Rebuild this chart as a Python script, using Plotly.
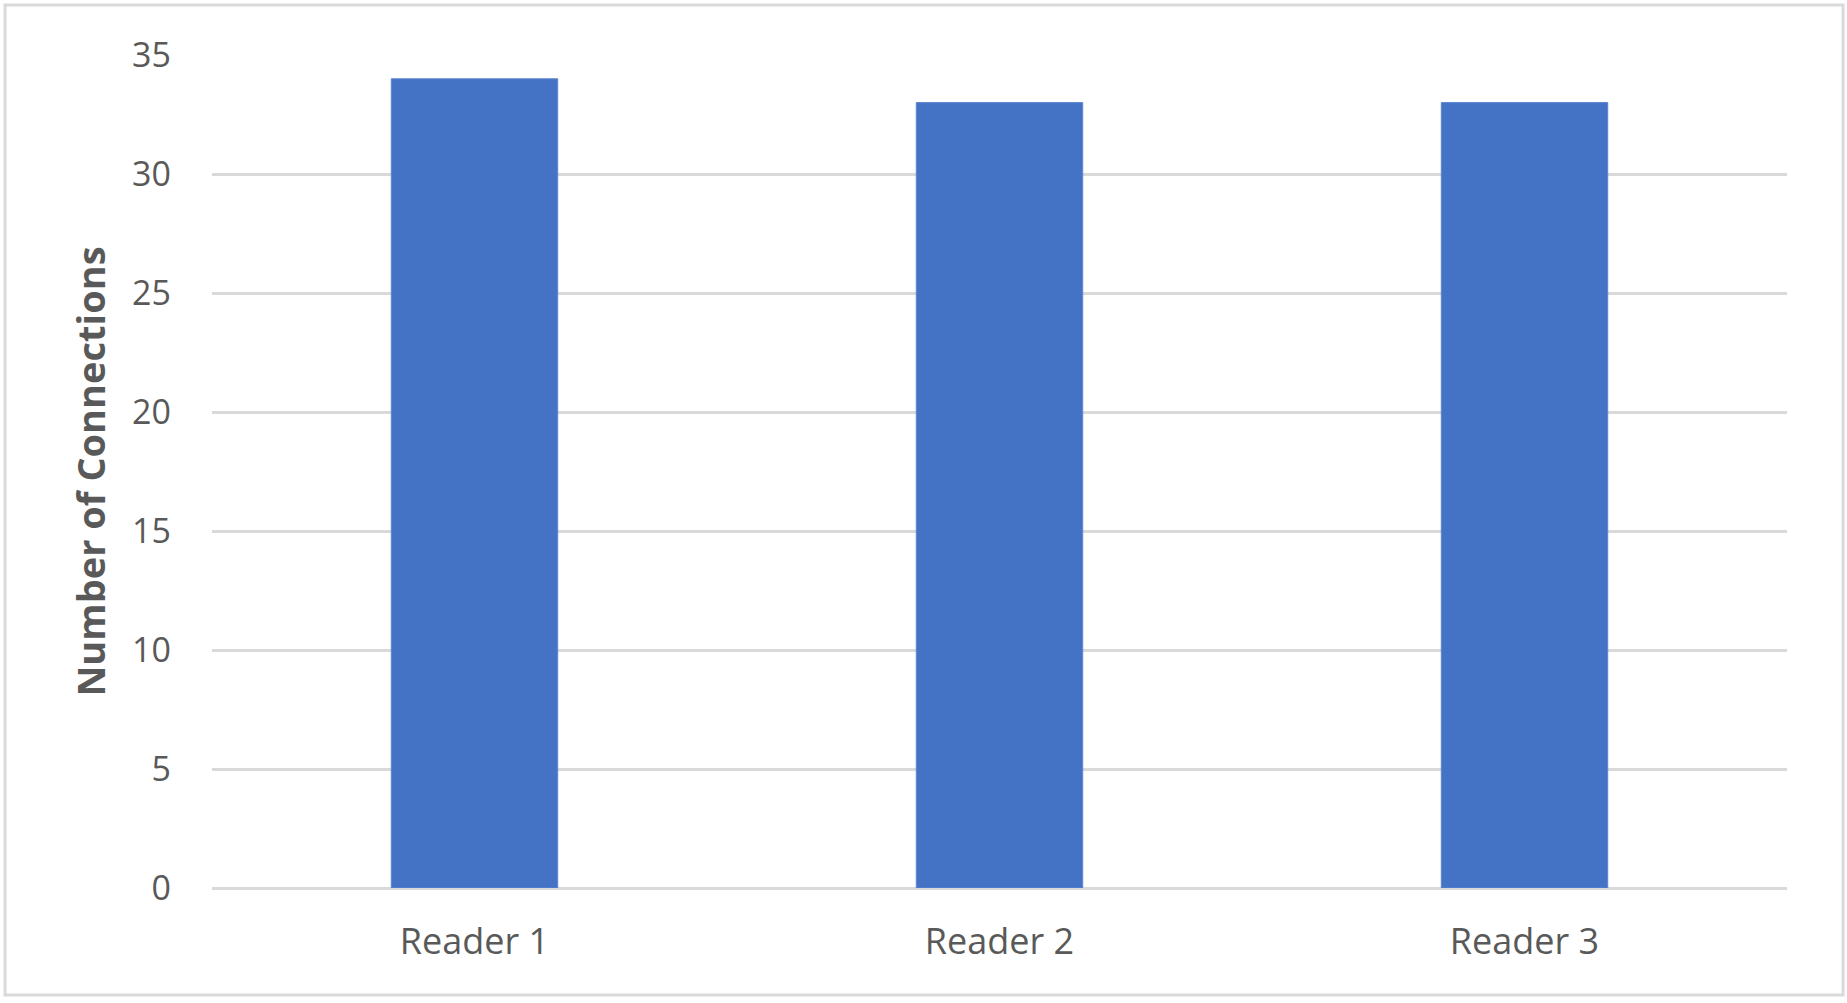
import plotly.graph_objects as go

# values
readers = ["Reader 1", "Reader 2", "Reader 3"]
connections = [34, 33, 33]
y_ticks = [0, 5, 10, 15, 20, 25, 30, 35]

grid_grey = "#D9D9D9"
text_grey = "#595959"

fig = go.Figure()

fig.add_trace(go.Bar(
    x=readers,
    y=connections,
    marker=dict(color="#4472C4", line=dict(color="#5B85D0", width=1)),
    width=0.317,
))

fig.update_layout(
    width=1847,
    height=1003,
    margin=dict(l=212, r=60, t=55, b=115),
    paper_bgcolor="white",
    plot_bgcolor="white",
    showlegend=False,
    font=dict(family="Open Sans", color=text_grey),
    xaxis=dict(
        tickfont=dict(size=36, color=text_grey),
        showgrid=False,
        showline=False,
        ticks="",
        ticklabelstandoff=29,
    ),
    yaxis=dict(
        range=[0, 35],
        tickvals=y_ticks,
        tickfont=dict(size=34, color=text_grey),
        gridcolor=grid_grey,
        gridwidth=2.5,
        zeroline=True,
        zerolinecolor=grid_grey,
        zerolinewidth=2.5,
        showline=False,
        ticks="",
        ticklabelstandoff=40,
        title=dict(
            text="<b>Number of Connections</b>",
            font=dict(size=38, color=text_grey),
            standoff=14,
        ),
    ),
    # light grey frame round the whole chart area
    shapes=[
        dict(
            type="rect",
            xref="paper",
            yref="paper",
            x0=-0.1314,
            x1=1.0356,
            y0=-0.1285,
            y1=1.060,
            line=dict(color=grid_grey, width=3),
            layer="below",
        )
    ],
)

# the page body has an 8px default margin; drop it so the figure fills the window
fig.write_html(
    "out.html",
    config={"displayModeBar": False},
    post_script="document.body.style.margin='0';document.documentElement.style.overflow='hidden';",
)
